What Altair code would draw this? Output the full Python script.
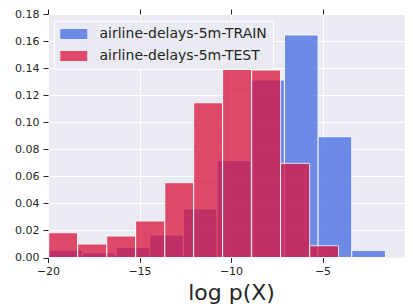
import altair as alt
import pandas as pd

series_names = ["airline-delays-5m-TRAIN", "airline-delays-5m-TEST"]
series_colors = ["#4169E1", "#DC143C"]

train_edges = [-19.96, -18.12, -16.28, -14.44, -12.60, -10.76, -8.92, -7.08, -5.24, -3.40, -1.56]
train_heights = [0.0055, 0.0035, 0.0075, 0.0166, 0.0359, 0.0716, 0.1312, 0.1645, 0.0893, 0.0053]

test_edges = [-19.96, -18.38, -16.79, -15.21, -13.62, -12.04, -10.46, -8.87, -7.29, -5.70, -4.12]
test_heights = [0.0183, 0.0100, 0.0159, 0.0270, 0.0553, 0.1144, 0.1393, 0.1386, 0.0696, 0.0087]

x_ticks = [-20, -15, -10, -5, 0]
y_ticks = [0.00, 0.02, 0.04, 0.06, 0.08, 0.10, 0.12, 0.14, 0.16, 0.18]

rows = []
for name, edges, heights in [(series_names[0], train_edges, train_heights),
                             (series_names[1], test_edges, test_heights)]:
    for i, h in enumerate(heights):
        rows.append({"series": name, "x0": edges[i], "x1": edges[i + 1], "h": h, "k": len(rows)})
df = pd.DataFrame(rows)

FONT = "DejaVu Sans"
TXT = "#262626"

xscale = alt.Scale(domain=[-20, 0], nice=False, zero=False)
yscale = alt.Scale(domain=[0, 0.18], nice=False)

bars = alt.Chart(df).mark_rect(opacity=0.75, stroke="white", strokeWidth=1).encode(
    x=alt.X("x0:Q", scale=xscale,
            axis=alt.Axis(values=x_ticks, format="d", title="log p(X)", orient="bottom",
                          grid=True, gridColor="white", gridWidth=1, domain=False,
                          tickSize=5, tickColor=TXT, labelColor=TXT, labelFont=FONT,
                          labelFontSize=11, labelPadding=3, labelFlush=False,
                          titleFont=FONT, titleFontSize=22,
                          titleFontWeight="normal", titleColor=TXT, titlePadding=6)),
    x2="x1:Q",
    y=alt.Y("h:Q", scale=yscale,
            axis=alt.Axis(values=y_ticks, format=".2f", title=None, grid=True,
                          gridColor="white", gridWidth=1, domain=False, tickSize=5,
                          tickColor=TXT, labelColor=TXT, labelFont=FONT, labelFontSize=11,
                          labelPadding=4, labelFlush=False)),
    y2=alt.datum(0),
    color=alt.Color("series:N",
                    scale=alt.Scale(domain=series_names, range=series_colors),
                    legend=alt.Legend(title=None, orient="none", legendX=6, legendY=7,
                                      fillColor="#EAEAF2", strokeColor="white", padding=6,
                                      symbolType="M-1,-0.74H3V0.74H-1Z", symbolSize=182,
                                      symbolOpacity=0.75, symbolStrokeWidth=0,
                                      labelFont=FONT, labelFontSize=14, labelColor=TXT,
                                      labelOffset=25.5, labelLimit=400, rowPadding=8)),
    order=alt.Order("k:Q"),
)

top_ticks = alt.Chart(df).mark_rect(opacity=0).encode(
    x=alt.X("x0:Q", scale=xscale,
            axis=alt.Axis(values=x_ticks, orient="top", labels=False, title=None, grid=False,
                          domain=False, tickSize=5, tickColor=TXT)),
    x2="x1:Q",
)

chart = alt.layer(bars, top_ticks).resolve_axis(x="independent").properties(
    width=366, height=243.5,
    background="white",
    autosize=alt.AutoSizeParams(type="none"),
    padding={"left": 40, "top": 6, "right": -9, "bottom": 47},
).configure_view(fill="#EAEAF2", stroke=None)

chart.save("out.html", embed_options={"renderer": "svg", "actions": False})
